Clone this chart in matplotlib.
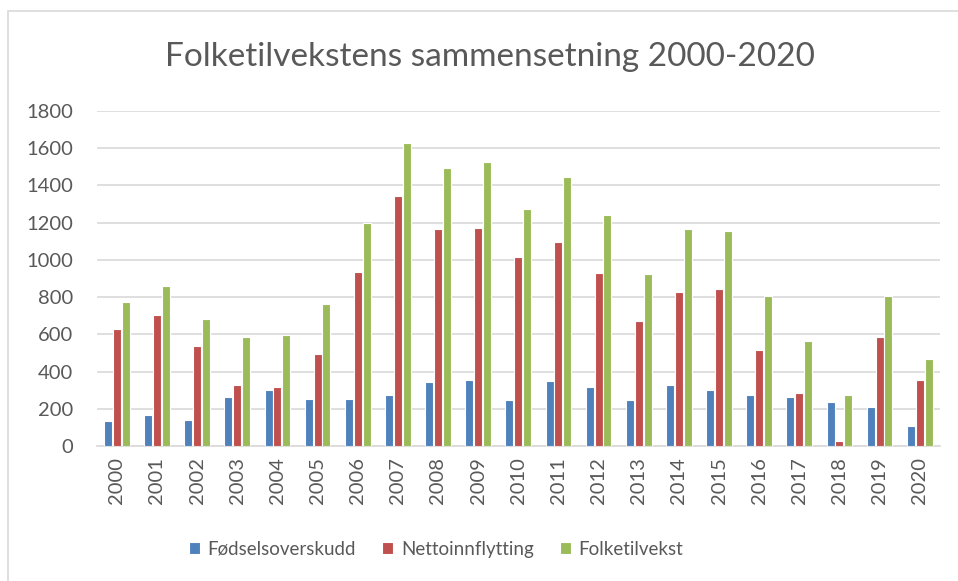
import matplotlib
matplotlib.use("Agg")
import matplotlib.pyplot as plt
import numpy as np
from matplotlib.patches import Rectangle

plt.rcParams['font.family'] = ['Lato', 'DejaVu Sans']

years = [str(y) for y in range(2000, 2021)]
fodselsoverskudd = [136, 165, 143, 262, 302, 254, 254, 274, 344, 358, 247,
                    351, 317, 247, 331, 302, 276, 262, 240, 213, 109]
nettoinnflytting = [627, 702, 537, 331, 317, 496, 937, 1343, 1164, 1171, 1014,
                    1096, 930, 670, 826, 842, 517, 288, 27, 586, 358]
folketilvekst = [772, 861, 681, 586, 598, 765, 1198, 1626, 1495, 1524, 1275,
                 1447, 1240, 922, 1164, 1157, 804, 564, 276, 804, 467]

series = [("Fødselsoverskudd", fodselsoverskudd, "#4f81bd"),
          ("Nettoinnflytting", nettoinnflytting, "#c0504d"),
          ("Folketilvekst", folketilvekst, "#9bbb59")]

text_col = "#595959"

fig = plt.figure(figsize=(9.58, 5.81), dpi=100)
ax = fig.add_axes([0.101, 0.232, 0.880, 0.577])

x = np.arange(len(years))
offsets = [-0.22, 0, 0.22]
for (name, vals, col), off in zip(series, offsets):
    ax.bar(x + off, vals, width=0.2, color=col, edgecolor="white",
           linewidth=0.8, label=name, zorder=3)

ax.set_xlim(-0.5, len(years) - 0.5)
ax.set_ylim(0, 1800)
ax.set_yticks(range(0, 1801, 200))
ax.set_xticks(x)
ax.set_xticklabels(years, rotation=90)
ax.tick_params(axis="both", length=0, colors=text_col, labelsize=14.5)
ax.tick_params(axis="y", pad=17)
ax.tick_params(axis="x", pad=8)
ax.grid(axis="y", color="#d9d9d9", linewidth=1.2, zorder=0)
for s in ["top", "right", "left"]:
    ax.spines[s].set_visible(False)
ax.spines["bottom"].set_color("#d9d9d9")
ax.spines["bottom"].set_linewidth(1.2)

fig.text(0.511, 0.902, "Folketilvekstens sammensetning 2000-2020",
         ha="center", va="center", fontsize=24, color=text_col)

fig.legend(loc="center", bbox_to_anchor=(0.455, 0.055), ncol=3, frameon=False,
           fontsize=13.5, handlelength=0.6, handleheight=0.6, columnspacing=1.4,
           handletextpad=0.4, labelcolor=text_col)

fig.patches.append(Rectangle((8 / 958, -0.1), 1.2, 1 - 11 / 581 + 0.1,
                             transform=fig.transFigure, fill=False,
                             edgecolor="#d9d9d9", linewidth=1.2))

fig.savefig("out.png", dpi=100)
